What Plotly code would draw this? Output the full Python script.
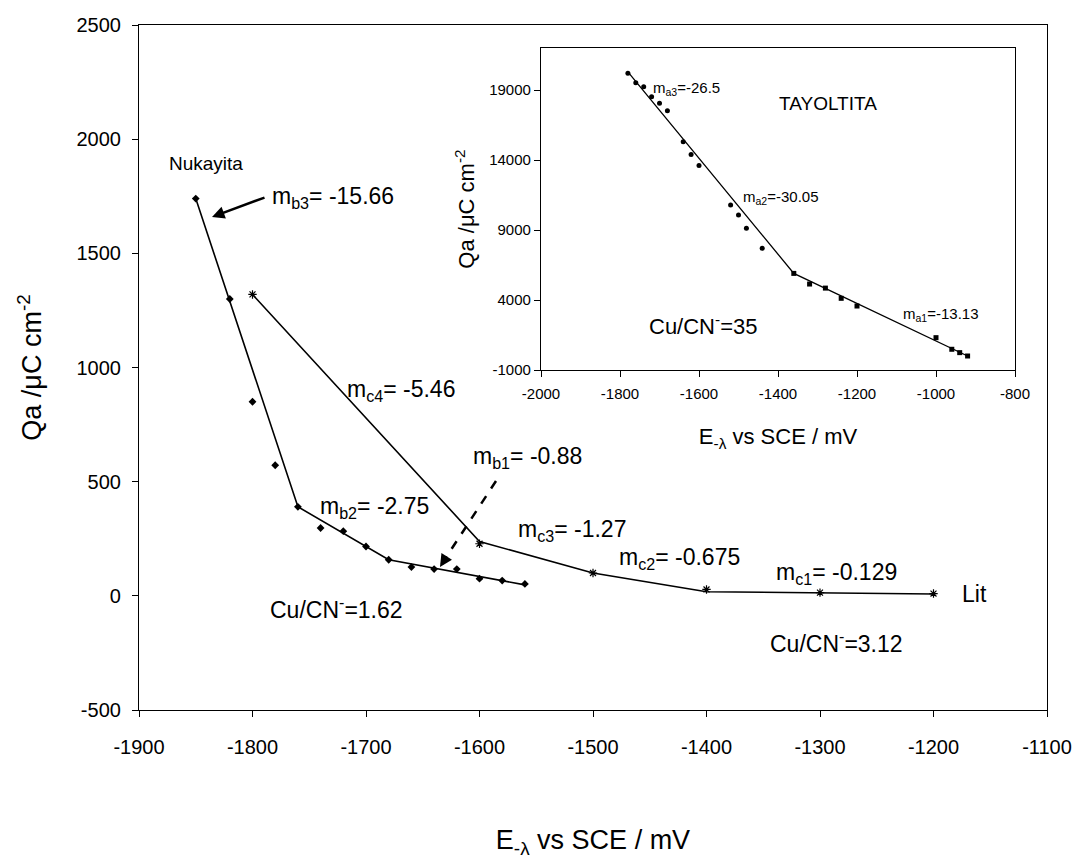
import plotly.graph_objects as go

# ---------------- data ----------------
# Nukayita (Cu/CN- = 1.62)
nuk_e = [-1850, -1820, -1800, -1780, -1760, -1740, -1720, -1700, -1680, -1660, -1640, -1620, -1600, -1580, -1560]
nuk_q = [1740, 1300, 850, 572, 390, 297, 283, 216, 158, 126, 117, 117, 75, 67, 52]
nuk_fit_e = [-1850, -1760, -1680, -1560]
nuk_fit_q = [1740, 390, 158, 48]

# Lit (Cu/CN- = 3.12)
lit_e = [-1800, -1600, -1500, -1400, -1300, -1200]
lit_q = [1320, 228, 100, 28, 14, 10]
lit_fit_e = [-1800, -1600, -1500, -1400, -1200]
lit_fit_q = [1320, 238, 100, 18, 8]

# Tayoltita inset (Cu/CN- = 35)
tay1_e = [-1780, -1760, -1740, -1720, -1700, -1680, -1640, -1620, -1600, -1520, -1500, -1480, -1440]
tay1_q = [20200, 19520, 19240, 18520, 18050, 17520, 15300, 14400, 13600, 10790, 10070, 9120, 7690]
tay2_e = [-1360, -1320, -1280, -1240, -1200, -1000, -960, -940, -920]
tay2_q = [5900, 5140, 4850, 4120, 3570, 1310, 480, 240, 0]
tay_fit_e = [-1780, -1360, -920]
tay_fit_q = [20300, 5900, 0]

main_xticks = [-1900, -1800, -1700, -1600, -1500, -1400, -1300, -1200, -1100]
main_yticks = [-500, 0, 500, 1000, 1500, 2000, 2500]
ins_xticks = [-2000, -1800, -1600, -1400, -1200, -1000, -800]
ins_yticks = [-1000, 4000, 9000, 14000, 19000]

# page has an 8px body margin; figure is sized to fit the 1080x861 window
OFF = 8
W, H = 1080 - OFF, 861 - OFF
FONT = "Liberation Sans, Arial, sans-serif"


def px(x):
    return (x - OFF) / W


def py(y):
    return 1 - (y - OFF) / H


def lab(vals):
    return [str(v) for v in vals]


fig = go.Figure()

line = dict(color="black", width=1.6)
fig.add_trace(go.Scatter(x=nuk_fit_e, y=nuk_fit_q, mode="lines", line=line, xaxis="x", yaxis="y", hoverinfo="skip"))
fig.add_trace(go.Scatter(x=nuk_e, y=nuk_q, mode="markers",
                         marker=dict(symbol="diamond", size=6, color="black"), xaxis="x", yaxis="y"))
fig.add_trace(go.Scatter(x=lit_fit_e, y=lit_fit_q, mode="lines", line=line, xaxis="x", yaxis="y", hoverinfo="skip"))
fig.add_trace(go.Scatter(x=lit_e, y=lit_q, mode="markers",
                         marker=dict(symbol="asterisk-open", size=7, color="black",
                                     line=dict(color="black", width=1.2)), xaxis="x", yaxis="y"))

fig.add_trace(go.Scatter(x=tay_fit_e, y=tay_fit_q, mode="lines", line=dict(color="black", width=1.3),
                         xaxis="x2", yaxis="y2", hoverinfo="skip"))
fig.add_trace(go.Scatter(x=tay1_e, y=tay1_q, mode="markers",
                         marker=dict(symbol="circle", size=5, color="black"), xaxis="x2", yaxis="y2"))
fig.add_trace(go.Scatter(x=tay2_e, y=tay2_q, mode="markers",
                         marker=dict(symbol="square", size=5, color="black"), xaxis="x2", yaxis="y2"))

axis_common = dict(showgrid=False, zeroline=False, showline=True, linecolor="black", linewidth=1.2,
                   mirror=True, ticks="outside", tickcolor="black", ticklen=6, automargin=False)

fig.update_layout(
    width=W, height=H,
    margin=dict(l=0, r=0, t=0, b=0, autoexpand=False),
    paper_bgcolor="white", plot_bgcolor="white",
    showlegend=False,
    font=dict(family=FONT, color="black"),
    xaxis=dict(domain=[px(139), px(1047)], range=[-1900, -1100], tickvals=main_xticks,
               ticktext=lab(main_xticks), tickfont=dict(size=20), anchor="y", ticklabelstandoff=13,
               title=dict(text="E<sub>-λ</sub> vs SCE / mV", font=dict(size=27), standoff=73),
               **axis_common),
    yaxis=dict(domain=[py(710), py(25)], range=[-500, 2500], tickvals=main_yticks,
               ticktext=lab(main_yticks), tickfont=dict(size=20), anchor="x", ticklabelstandoff=7,
               title=dict(text="Qa /μC cm<sup>-2</sup>", font=dict(size=27), standoff=26),
               **axis_common),
    xaxis2=dict(domain=[px(541), px(1015)], range=[-2000, -800], tickvals=ins_xticks,
                ticktext=lab(ins_xticks), tickfont=dict(size=15), anchor="y2", ticklabelstandoff=4,
                title=dict(text="E<sub>-λ</sub> vs SCE / mV", font=dict(size=22), standoff=27),
                **axis_common),
    yaxis2=dict(domain=[py(370), py(48)], range=[-1000, 22000], tickvals=ins_yticks,
                ticktext=lab(ins_yticks), tickfont=dict(size=15), anchor="x2",
                title=dict(text="Qa /μC cm<sup>-2</sup>", font=dict(size=22), standoff=8),
                **axis_common),
)

ann = []


def text(x, y, t, size, xanchor="left"):
    ann.append(dict(x=px(x), y=py(y), xref="paper", yref="paper", text=t, showarrow=False,
                    xanchor=xanchor, yanchor="middle", font=dict(size=size, family=FONT, color="black")))


text(206, 164, "Nukayita", 19, "center")
text(270, 198, "m<sub>b3</sub>= -15.66", 23)
text(345, 390, "m<sub>c4</sub>= -5.46", 23)
text(471, 458, "m<sub>b1</sub>= -0.88", 23)
text(318, 507, "m<sub>b2</sub>= -2.75", 23)
text(516, 530, "m<sub>c3</sub>= -1.27", 23)
text(617, 558, "m<sub>c2</sub>= -0.675", 23)
text(774, 573, "m<sub>c1</sub>= -0.129", 23)
text(960, 594, "Lit", 23)
text(268, 608, "Cu/CN<sup>-</sup>=1.62", 23)
text(768, 642, "Cu/CN<sup>-</sup>=3.12", 23)

# inset texts
text(651, 88, "m<sub>a3</sub>=-26.5", 15)
text(777, 104, "TAYOLTITA", 19)
text(741, 197, "m<sub>a2</sub>=-30.05", 15)
text(647, 325, "Cu/CN<sup>-</sup>=35", 22)
text(901, 314, "m<sub>a1</sub>=-13.13", 15)

# solid arrow to Nukayita line
ann.append(dict(x=px(212), y=py(217), xref="paper", yref="paper", ax=54, ay=-20,
                axref="pixel", ayref="pixel", showarrow=True, arrowhead=2, arrowsize=1,
                arrowwidth=2.5, arrowcolor="black", text=""))
# dashed arrow head
ann.append(dict(x=px(440), y=py(567), xref="paper", yref="paper", ax=7, ay=-11,
                axref="pixel", ayref="pixel", showarrow=True, arrowhead=2, arrowsize=1,
                arrowwidth=2.5, arrowcolor="black", text=""))
fig.update_layout(annotations=ann)

fig.add_shape(type="line", xref="paper", yref="paper", x0=px(496), y0=py(481), x1=px(445), y1=py(559),
              line=dict(color="black", width=2.5, dash="dash"))

fig.write_html("out.html")
